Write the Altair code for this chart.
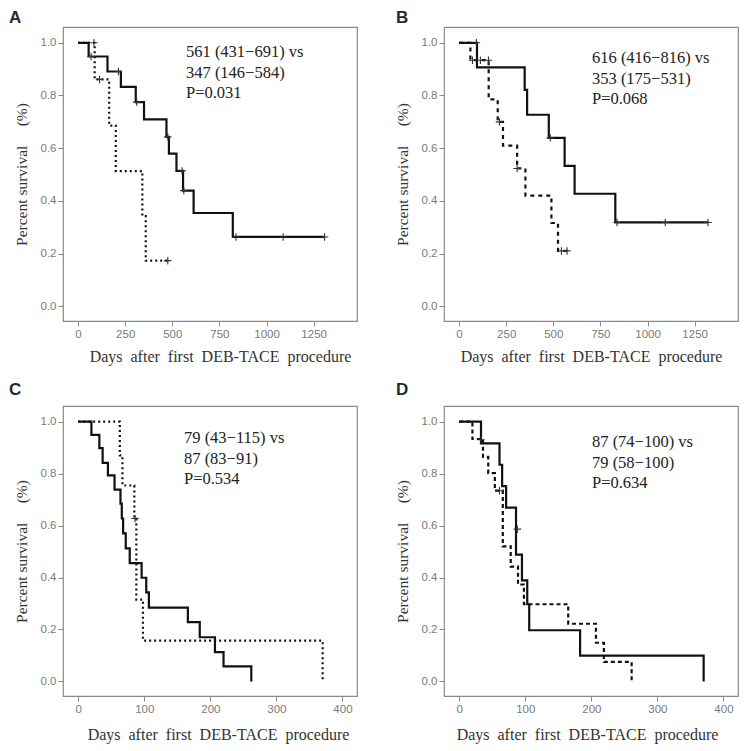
import altair as alt
import pandas as pd

# ---------------- Panel A ----------------
A_solid_days = [0, 56, 156, 227, 306, 350, 469, 482, 522, 557, 613, 821, 1308]
A_solid_surv = [1.0, 0.948, 0.891, 0.833, 0.775, 0.709, 0.643, 0.579, 0.514, 0.439, 0.354, 0.263, 0.263]
A_other_days = [0, 88, 165, 200, 341, 359, 476]
A_other_surv = [1.0, 0.861, 0.686, 0.513, 0.342, 0.173, 0.173]
A_cens_days = [69, 214, 311, 476, 552, 561, 838, 1088, 1308, 84, 114, 476]
A_cens_surv = [0.948, 0.891, 0.775, 0.643, 0.514, 0.439, 0.263, 0.263, 0.263, 1.0, 0.861, 0.173]
A_note = ["561 (431\u2212691) vs", "347 (146\u2212584)", "P=0.031"]

# ---------------- Panel B ----------------
B_solid_days = [0, 95, 348, 361, 476, 560, 613, 829, 1321]
B_solid_surv = [1.0, 0.907, 0.821, 0.727, 0.639, 0.533, 0.427, 0.318, 0.318]
B_other_days = [0, 60, 157, 205, 233, 308, 352, 490, 525, 573]
B_other_surv = [1.0, 0.934, 0.785, 0.70, 0.61, 0.523, 0.42, 0.316, 0.21, 0.21]
B_cens_days = [92, 484, 838, 1094, 1321, 71, 113, 156, 214, 308, 543, 573]
B_cens_surv = [1.0, 0.639, 0.318, 0.318, 0.318, 0.934, 0.934, 0.934, 0.70, 0.523, 0.21, 0.21]
B_note = ["616 (416\u2212816) vs", "353 (175\u2212531)", "P=0.068"]

# ---------------- Panel C ----------------
C_solid_days = [0, 20, 32, 37, 45, 55, 64, 66, 68, 72, 78, 96, 103, 107, 166, 184, 207, 220, 262]
C_solid_surv = [1.0, 0.949, 0.898, 0.841, 0.793, 0.738, 0.684, 0.627, 0.57, 0.512, 0.455, 0.399,
                0.343, 0.284, 0.228, 0.17, 0.113, 0.058, 0.0]
C_other_days = [0, 63, 67, 85, 88, 98, 370]
C_other_surv = [1.0, 0.87, 0.754, 0.627, 0.315, 0.157, 0.0]
C_cens_days = [86]
C_cens_surv = [0.627]
C_note = ["79 (43\u2212115) vs", "87 (83\u221291)", "P=0.534"]

# ---------------- Panel D ----------------
D_solid_days = [0, 33, 61, 65, 71, 86, 95, 103, 106, 183, 370]
D_solid_surv = [1.0, 0.916, 0.834, 0.752, 0.669, 0.488, 0.389, 0.297, 0.197, 0.099, 0.0]
D_other_days = [0, 20, 36, 44, 54, 66, 78, 89, 98, 165, 207, 219, 261]
D_other_surv = [1.0, 0.933, 0.864, 0.802, 0.734, 0.52, 0.442, 0.373, 0.297, 0.222, 0.149, 0.075, 0.0]
D_cens_days = [33, 88, 61]
D_cens_surv = [0.93, 0.586, 0.734]
D_note = ["87 (74\u2212100) vs", "79 (58\u2212100)", "P=0.634"]

LONG_TICKS = [0, 250, 500, 750, 1000, 1250]
SHORT_TICKS = [0, 100, 200, 300, 400]
Y_TICKS = [0.0, 0.2, 0.4, 0.6, 0.8, 1.0]

X_TITLE = "Days\u00a0\u00a0after\u00a0\u00a0first\u00a0\u00a0DEB-TACE\u00a0\u00a0procedure"
Y_TITLE = "Percent survival\u00a0\u00a0\u00a0\u00a0\u00a0(%)"

PLUS = "M-1,0L1,0M0,-1L0,1"
W = 294


def panel(label, st, ss, ot, os_, ct, cs, note, xdom, xticks, dash,
          note_xy, label_xy, xpad, h, tshift):
    xs = alt.Scale(domain=xdom, nice=False, zero=False)
    ys = alt.Scale(domain=[-0.056, 1.06], nice=False, zero=False)
    xa = alt.Axis(values=xticks, format="d", title=X_TITLE,
                  titlePadding=xpad, labelPadding=2, titleX=W / 2 + tshift)
    ya = alt.Axis(values=Y_TICKS, format=".1f", title=Y_TITLE,
                  titlePadding=11, labelPadding=2, titleFontSize=15.5)
    x = alt.X("t:Q", scale=xs, axis=xa)
    y = alt.Y("s:Q", scale=ys, axis=ya)

    solid = alt.Chart(pd.DataFrame({"t": st, "s": ss})).mark_line(
        interpolate="step-after", color="#111111", strokeWidth=2.2
    ).encode(x=x, y=y)
    other = alt.Chart(pd.DataFrame({"t": ot, "s": os_})).mark_line(
        interpolate="step-after", color="#111111", strokeWidth=2.2, strokeDash=dash
    ).encode(x=x, y=y)
    cens = alt.Chart(pd.DataFrame({"t": ct, "s": cs})).mark_point(
        shape=PLUS, size=55, strokeWidth=1.1, color="#333333", filled=False, opacity=1
    ).encode(x=x, y=y)
    txt = alt.Chart(pd.DataFrame({"k": [0]})).mark_text(
        align="left", baseline="top", font="Liberation Serif", fontSize=16.5,
        lineHeight=20.5, color="#222222"
    ).encode(x=alt.value(note_xy[0]), y=alt.value(note_xy[1]), text=alt.value(note))
    lab = alt.Chart(pd.DataFrame({"k": [0]})).mark_text(
        align="left", baseline="top", font="Liberation Sans", fontWeight="bold",
        fontSize=17, color="#1e2b38"
    ).encode(x=alt.value(label_xy[0]), y=alt.value(label_xy[1]), text=alt.value(label))
    return alt.layer(solid, other, cens, txt, lab).properties(width=W, height=h)


pA = panel("A", A_solid_days, A_solid_surv, A_other_days, A_other_surv, A_cens_days, A_cens_surv,
           A_note, [-80, 1480], LONG_TICKS, [2, 3], (123, 17), (-54, -17), 8.5, 294, 10)
pB = panel("B", B_solid_days, B_solid_surv, B_other_days, B_other_surv, B_cens_days, B_cens_surv,
           B_note, [-80, 1480], LONG_TICKS, [4, 4], (148, 23), (-48, -17), 8.5, 294, 0)
pC = panel("C", C_solid_days, C_solid_surv, C_other_days, C_other_surv, C_cens_days, C_cens_surv,
           C_note, [-23, 422], SHORT_TICKS, [2, 3], (121, 24), (-54, -24), 12, 290, 8)
pD = panel("D", D_solid_days, D_solid_surv, D_other_days, D_other_surv, D_cens_days, D_cens_surv,
           D_note, [-23, 422], SHORT_TICKS, [4, 3], (148, 28), (-48, -24), 12, 290, -4)

chart = alt.vconcat(
    alt.hconcat(pA, pB, spacing=36),
    alt.hconcat(pC, pD, spacing=36),
    spacing=15,
).properties(
    padding={"left": 0, "top": 0, "right": 0, "bottom": 0}
).configure_view(
    stroke="#8a8a8a", strokeWidth=1.2
).configure_axis(
    domain=False, grid=False, tickColor="#8a8a8a", tickSize=5,
    labelColor="#7a7a7a", labelFont="Liberation Sans", labelFontSize=11.5,
    titleFont="Liberation Serif", titleFontSize=16, titleFontWeight="normal",
    titleColor="#333333"
)

chart.save("out.html", embed_options={"renderer": "svg", "actions": False})
